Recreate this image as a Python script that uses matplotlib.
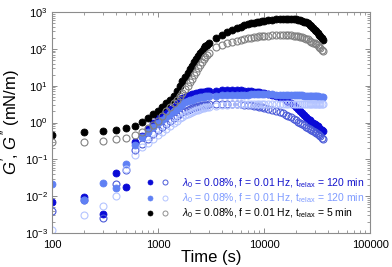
import numpy as np
import matplotlib
matplotlib.use('Agg')
import matplotlib.pyplot as plt
from matplotlib.legend_handler import HandlerTuple

#-------------------------------------------------------------------------------
#DATA
#time (s)
time_s = [100, 200, 300, 400, 500, 600, 700, 800, 900, 1000,
          1100, 1200, 1300, 1400, 1500, 1600, 1700, 1800, 1900, 2000,
          2100, 2200, 2300, 2400, 2500, 2600, 2700, 2800, 2900, 3000,
          3500, 4000, 4500, 5000, 5500, 6000, 6500, 7000, 7500, 8000,
          8500, 9000, 9500, 10000,
          11000, 12000, 13000, 14000, 15000, 16000, 17000, 18000, 19000, 20000,
          21000, 22000, 23000, 24000, 25000, 26000, 27000, 28000, 29000, 30000,
          31000, 32000, 33000, 34000, 35000, 36000]

#lambda0 = 0.08%, trelax = 120 min (dark blue)
g1_store = [0.007, 0.0096, 0.0032, 0.042, 0.018, 0.30, 0.44, 0.65, 0.95, 1.3,
            1.6, 1.9, 2.3, 2.7, 3.2, 3.8, 4.5, 5.0, 5.4, 5.7,
            5.9, 6.1, 6.3, 6.4, 6.55, 6.7, 6.8, 6.9, 7.0, 7.1,
            7.3, 7.45, 7.5, 7.5, 7.45, 7.4, 7.3, 7.2, 7.05, 6.95,
            6.8, 6.65, 6.5, 6.3,
            6.0, 5.7, 5.35, 5.0, 4.6, 4.15, 3.7, 3.3, 2.95, 2.6,
            2.3, 2.0, 1.78, 1.58, 1.42, 1.28, 1.16, 1.06, 0.98, 0.9,
            0.84, 0.78, 0.73, 0.68, 0.64, 0.60]
g1_loss = [0.0039, 0.008, 0.0026, 0.021, 0.05, 0.18, 0.26, 0.35, 0.48, 0.62,
           0.75, 0.9, 1.1, 1.35, 1.55, 1.75, 1.95, 2.1, 2.25, 2.4,
           2.5, 2.6, 2.7, 2.78, 2.85, 2.9, 2.95, 3.0, 3.05, 3.1,
           3.2, 3.25, 3.25, 3.2, 3.15, 3.1, 3.05, 2.97, 2.9, 2.82,
           2.75, 2.68, 2.6, 2.55,
           2.4, 2.25, 2.1, 1.95, 1.8, 1.65, 1.5, 1.38, 1.27, 1.15,
           1.05, 0.97, 0.9, 0.83, 0.77, 0.72, 0.67, 0.63, 0.59, 0.55,
           0.52, 0.48, 0.45, 0.42, 0.39, 0.36]

#lambda0 = 0.08%, trelax = 120 min (light blue)
g2_store = [0.021, 0.0078, 0.023, 0.017, 0.074, 0.25, 0.40, 0.55, 0.75, 1.0,
            1.2, 1.45, 1.7, 2.0, 2.4, 2.8, 3.2, 3.5, 3.8, 4.0,
            4.2, 4.4, 4.55, 4.7, 4.8, 4.9, 5.0, 5.1, 5.15, 5.2,
            5.35, 5.45, 5.55, 5.6, 5.65, 5.7, 5.72, 5.75, 5.77, 5.78,
            5.79, 5.8, 5.8, 5.8,
            5.8, 5.78, 5.75, 5.72, 5.7, 5.67, 5.63, 5.6, 5.57, 5.53,
            5.5, 5.46, 5.42, 5.38, 5.34, 5.3, 5.27, 5.23, 5.2, 5.17,
            5.14, 5.11, 5.08, 5.05, 5.02, 5.0]
g2_loss = [0.0012, 0.003, 0.0054, 0.010, 0.054, 0.13, 0.22, 0.28, 0.36, 0.45,
           0.55, 0.68, 0.82, 0.97, 1.12, 1.3, 1.45, 1.58, 1.7, 1.82,
           1.93, 2.05, 2.15, 2.25, 2.33, 2.42, 2.5, 2.56, 2.62, 2.68,
           2.85, 2.95, 3.05, 3.1, 3.15, 3.18, 3.2, 3.22, 3.23, 3.24,
           3.25, 3.25, 3.25, 3.25,
           3.25, 3.25, 3.25, 3.25, 3.25, 3.25, 3.25, 3.25, 3.25, 3.25,
           3.25, 3.24, 3.24, 3.24, 3.23, 3.23, 3.23, 3.22, 3.22, 3.22,
           3.21, 3.21, 3.21, 3.2, 3.2, 3.2]

#lambda0 = 0.08%, trelax = 5 min (black)
g3_store = [0.46, 0.54, 0.60, 0.64, 0.69, 0.80, 1.03, 1.35, 1.7, 2.1,
            2.6, 3.3, 4.1, 5.2, 7.2, 9.8, 13, 17, 22, 28,
            35, 44, 54, 64, 76, 90, 107, 118, 130, 145,
            197, 240, 280, 320, 363, 398, 433, 468, 490, 510,
            525, 543, 560, 571,
            590, 610, 630, 645, 653, 660, 660, 653, 645, 630,
            617, 595, 575, 550, 520, 490, 450, 410, 370, 335,
            300, 270, 245, 220, 195, 174]
g3_loss = [0.30, 0.30, 0.32, 0.36, 0.38, 0.46, 0.56, 0.70, 0.88, 1.12,
           1.5, 2.0, 2.6, 3.3, 4.2, 5.2, 6.4, 7.9, 10, 12.3,
           15.2, 19, 24, 29.5, 36, 44, 52, 60, 67, 76,
           110, 128, 140, 152, 162, 172, 185, 195, 202, 208,
           213, 217, 220, 224,
           228, 232, 235, 237, 238, 238, 236, 233, 229, 224,
           218, 212, 205, 198, 190, 180, 168, 158, 148, 140,
           132, 124, 115, 105, 95, 87]

labels = [r'$\lambda_0$ = 0.08%, f = 0.01 Hz, t$_{\rm relax}$ = 120 min',
          r'$\lambda_0$ = 0.08%, f = 0.01 Hz, t$_{\rm relax}$ = 120 min',
          r'$\lambda_0$ = 0.08%, f = 0.01 Hz, t$_{\rm relax}$ = 5 min']

#-------------------------------------------------------------------------------
#STYLE
plt.rcParams['font.family'] = ['Liberation Sans', 'DejaVu Sans']
plt.rcParams['mathtext.fontset'] = 'custom'
plt.rcParams['mathtext.rm'] = 'Liberation Sans'
plt.rcParams['mathtext.it'] = 'Liberation Sans:italic'
plt.rcParams['mathtext.bf'] = 'Liberation Sans:bold'

fill_cols = ['#0a0ad6', '#5f80f4', '#000000']
open_cols = ['#4a5ad8', '#b4c4ff', '#808080']
text_cols = ['#1414cc', '#7f9bff', '#000000']
frame_col = '#8c8c8c'

series = [(g1_store, g1_loss), (g2_store, g2_loss), (g3_store, g3_loss)]

fig = plt.figure(figsize=(3.92, 2.67), dpi=100)
ax = fig.add_axes([0.1327, 0.1273, 0.8113, 0.8277])

for i, (gs, gl) in enumerate(series):
    ax.plot(time_s, gs, 'o', ms=5.0, mfc=fill_cols[i], mec=fill_cols[i],
            mew=0.6, ls='none')
    ax.plot(time_s, gl, 'o', ms=5.0, mfc='none', mec=open_cols[i],
            mew=0.8, ls='none')

ax.set_xscale('log')
ax.set_yscale('log')
ax.set_xlim(100, 100000)
ax.set_ylim(1e-3, 1e3)

for sp in ax.spines.values():
    sp.set_color(frame_col)
    sp.set_linewidth(0.8)
ax.tick_params(which='both', direction='in', top=True, right=True,
               color=frame_col, labelsize=8)
ax.tick_params(axis='x', pad=5)
ax.tick_params(axis='y', pad=3)
ax.tick_params(which='major', length=3.5, width=0.7)
ax.tick_params(which='minor', length=2, width=0.6)
ax.xaxis.set_major_formatter(plt.FuncFormatter(lambda v, p: '%d' % v))
ax.xaxis.set_minor_formatter(plt.NullFormatter())
ax.yaxis.set_minor_formatter(plt.NullFormatter())

ax.set_xlabel('Time (s)', fontsize=12, labelpad=0)
ax.set_ylabel(r"$G'$, $G''$ (mN/m)", fontsize=12, labelpad=2)

#legend: filled and open marker per row
leg_handles = []
for i in range(3):
    lf, = ax.plot([], [], 'o', ms=3.6, mfc=fill_cols[i], mec=fill_cols[i], mew=0.5)
    lo, = ax.plot([], [], 'o', ms=3.6, mfc='none',
                  mec=open_cols[i] if i < 2 else '#909090', mew=0.7)
    leg_handles.append((lf, lo))
leg = ax.legend(leg_handles, labels, loc='lower right', bbox_to_anchor=(1.0, 0.03),
                handler_map={tuple: HandlerTuple(ndivide=None, pad=0.8)},
                frameon=False, fontsize=7.5, handlelength=2.2, handletextpad=1.2,
                labelspacing=0.15, borderaxespad=0.2)
for txt, c in zip(leg.get_texts(), text_cols):
    txt.set_color(c)

fig.savefig('out.png', dpi=100)
